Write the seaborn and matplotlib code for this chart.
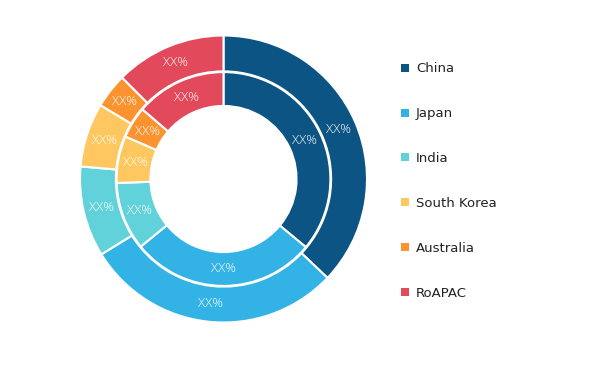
import matplotlib
matplotlib.use("Agg")
import matplotlib.pyplot as plt
import seaborn as sns
from matplotlib.patches import Patch

sns.set_style("white")
plt.rcParams['font.family'] = ['DejaVu Sans']

categories = ["China", "Japan", "India", "South Korea", "Australia", "RoAPAC"]
outer_values = [37.1, 29.1, 10.2, 7.2, 3.9, 12.5]
inner_values = [36.0, 28.1, 10.3, 7.1, 4.8, 13.7]
label_text = ["XX%"] * 6
colors = sns.color_palette(["#0b5484", "#33b3e5", "#62d2da", "#fec760", "#fb9330", "#e2495a"])

fig = plt.figure(figsize=(5.94, 3.65), dpi=100)
ax = fig.add_axes([80 / 594, 42.5 / 365, 287 / 594, 287 / 365])

txt = dict(color="white", fontsize=9.5, ha="center", va="center",
           family=["Open Sans", "DejaVu Sans"], fontweight="light")
wedges_o, texts_o = ax.pie(outer_values, radius=1.0, colors=colors, startangle=90,
                           counterclock=False, labels=label_text, labeldistance=0.875,
                           wedgeprops=dict(width=0.25, edgecolor="white", linewidth=1.5),
                           textprops=txt)
wedges_i, texts_i = ax.pie(inner_values, radius=0.745, colors=colors, startangle=90,
                           counterclock=False, labels=label_text, labeldistance=0.84,
                           wedgeprops=dict(width=0.236, edgecolor="white", linewidth=1.5),
                           textprops=txt)
for t in texts_o + texts_i:
    t.set_ha("center")
    t.set_va("center")

ax.set_xlim(-1, 1)
ax.set_ylim(-1, 1)
ax.set_aspect("equal")
ax.axis("off")

handles = [Patch(facecolor=c, edgecolor="none") for c in colors]
fig.legend(handles, categories, loc="upper left", bbox_to_anchor=(396 / 594, 1 - 57 / 365),
           frameon=False, handlelength=0.55, handleheight=0.55, handletextpad=0.55,
           labelspacing=2.42, fontsize=9.5, labelcolor="#222222", borderaxespad=0)

fig.savefig("out.png", dpi=100)
